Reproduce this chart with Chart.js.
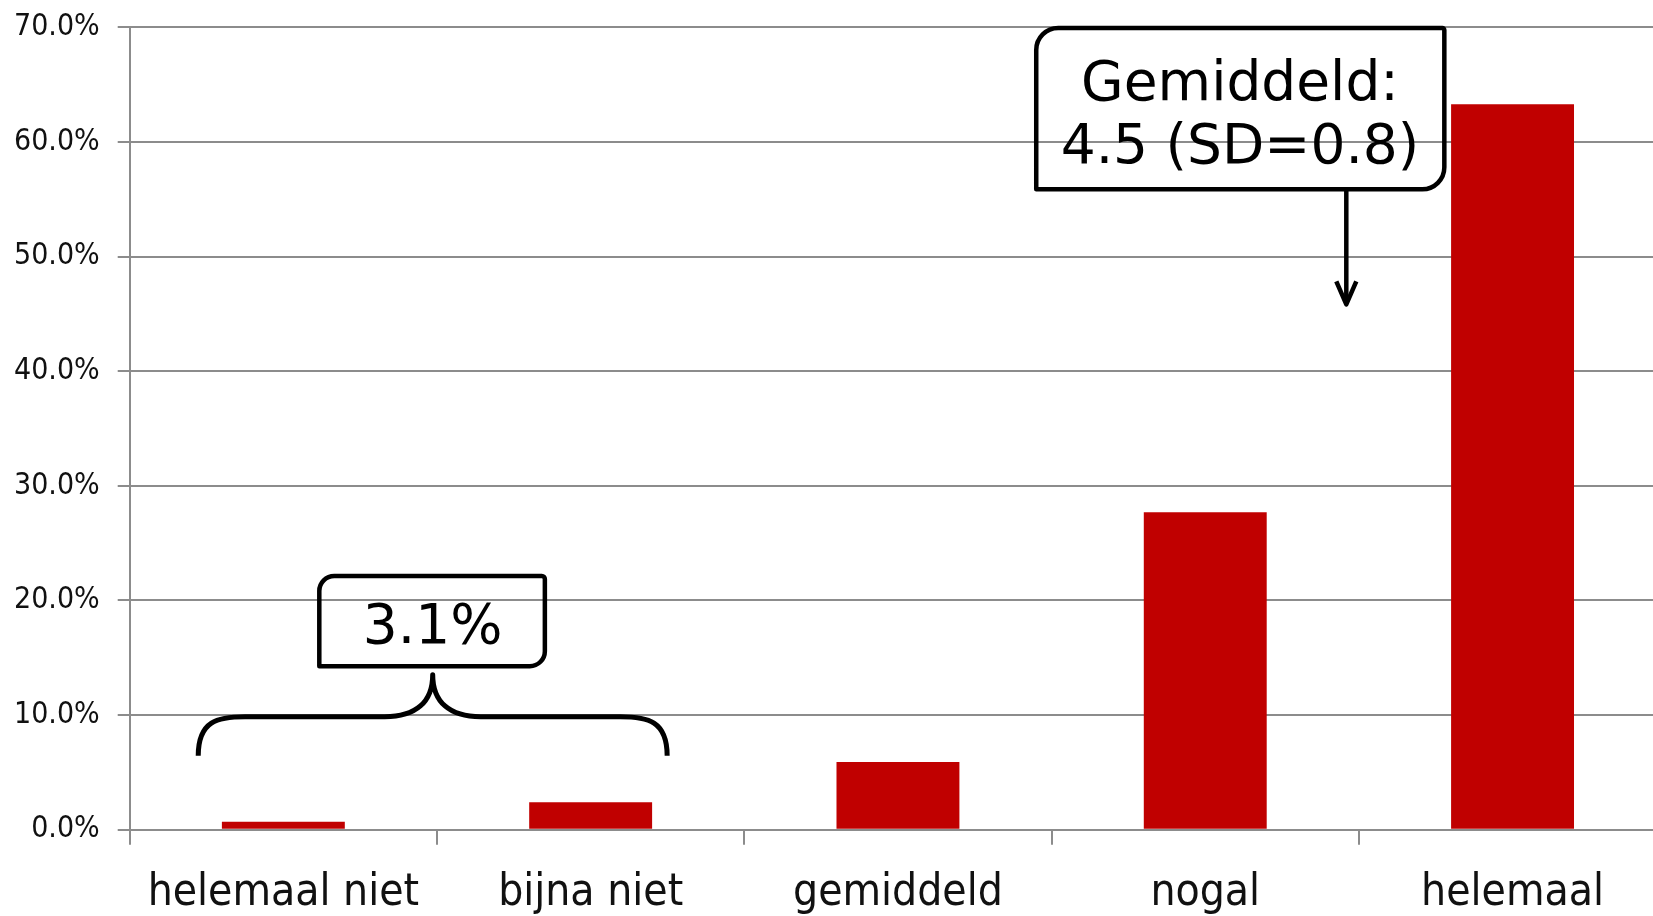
<!DOCTYPE html>
<html>
<head>
<meta charset="utf-8">
<script src="https://cdn.jsdelivr.net/npm/chart.js@4"></script>
<style>
  html, body { margin: 0; padding: 0; background: #fff; overflow: hidden; }
  #wrap { width: 1680px; height: 916px; }
</style>
</head>
<body>
<div id="wrap"><canvas id="c" width="1680" height="916"></canvas></div>
<script>
// ---- data ----
const categories = ['helemaal niet', 'bijna niet', 'gemiddeld', 'nogal', 'helemaal'];
const percentages = [0.7, 2.4, 5.9, 27.7, 63.3];
const yTicks = [0, 10, 20, 30, 40, 50, 60, 70];

// ---- annotations (in data units: x = category index, y = percent) ----
const sumLabel = '3.1%';
const sumBox = [0.117, 0.851, 22.13, 14.27];      // x0, x1, yTop, yBottom
const sumTextPos = [0.486, 16.3];                 // x, baseline y
const bracePts = [-0.277, 1.249, 0.486, 6.45, 9.86, 13.53]; // left, right, tipX, endsY, midY, tipY
const meanLines = ['Gemiddeld:', '4.5 (SD=0.8)'];
const meanBox = [2.450, 3.778, 69.95, 55.88];
const meanTextPos = [3.113, 63.65, 58.14];        // x, baseline line1, baseline line2
const meanArrow = [3.459, 55.88, 45.83];          // x, from y, to y

const tickFont = "'DejaVu Sans Condensed', 'DejaVu Sans', sans-serif";
const noteFont = "'DejaVu Sans', Verdana, sans-serif";
const GRID = '#8c8c8c';

const annotPlugin = {
  id: 'annot',
  afterDraw(chart) {
    const { ctx, scales: { x, y } } = chart;
    const X = v => x.getPixelForValue(v);
    const Y = v => y.getPixelForValue(v);
    ctx.save();
    ctx.strokeStyle = '#000';
    ctx.fillStyle = '#000';
    ctx.lineJoin = 'round';
    ctx.lineCap = 'butt';

    // sum box
    ctx.lineWidth = 4.5;
    ctx.beginPath();
    ctx.roundRect(X(sumBox[0]), Y(sumBox[2]), X(sumBox[1]) - X(sumBox[0]), Y(sumBox[3]) - Y(sumBox[2]), [15, 3, 15, 0]);
    ctx.stroke();
    ctx.font = '55px ' + noteFont;
    ctx.textAlign = 'center';
    ctx.textBaseline = 'alphabetic';
    ctx.fillText(sumLabel, X(sumTextPos[0]), Y(sumTextPos[1]));

    // brace
    const L = X(bracePts[0]), R = X(bracePts[1]), T = X(bracePts[2]);
    const yEnd = Y(bracePts[3]), yMid = Y(bracePts[4]), yTip = Y(bracePts[5]);
    const r1 = yEnd - yMid;            // outer corner
    const w2 = 48;                     // inner curve width
    ctx.lineWidth = 5;
    ctx.beginPath();
    ctx.moveTo(L, yEnd);
    ctx.bezierCurveTo(L, yMid + r1 * 0.1, L + r1 * 0.5, yMid, L + r1 * 1.2, yMid);
    ctx.lineTo(T - w2, yMid);
    ctx.bezierCurveTo(T - w2 * 0.35, yMid, T, yMid - (yMid - yTip) * 0.35, T, yTip);
    ctx.bezierCurveTo(T, yMid - (yMid - yTip) * 0.35, T + w2 * 0.35, yMid, T + w2, yMid);
    ctx.lineTo(R - r1 * 1.2, yMid);
    ctx.bezierCurveTo(R - r1 * 0.5, yMid, R, yMid + r1 * 0.1, R, yEnd);
    ctx.stroke();

    // mean box
    ctx.lineWidth = 4.5;
    ctx.beginPath();
    ctx.roundRect(X(meanBox[0]), Y(meanBox[2]), X(meanBox[1]) - X(meanBox[0]), Y(meanBox[3]) - Y(meanBox[2]), [22, 2, 22, 0]);
    ctx.stroke();
    ctx.fillText(meanLines[0], X(meanTextPos[0]), Y(meanTextPos[1]));
    ctx.fillText(meanLines[1], X(meanTextPos[0]), Y(meanTextPos[2]));

    // arrow
    const ax = X(meanArrow[0]), ay0 = Y(meanArrow[1]), ay1 = Y(meanArrow[2]);
    ctx.lineWidth = 4.5;
    ctx.beginPath();
    ctx.moveTo(ax, ay0);
    ctx.lineTo(ax, ay1 - 2);
    ctx.stroke();
    ctx.beginPath();
    ctx.moveTo(ax - 10, ay1 - 23);
    ctx.lineTo(ax, ay1);
    ctx.lineTo(ax + 10, ay1 - 23);
    ctx.stroke();
    ctx.restore();
  }
};

new Chart(document.getElementById('c'), {
  type: 'bar',
  data: {
    labels: categories,
    datasets: [{
      data: percentages,
      backgroundColor: '#C00000',
      borderWidth: 0,
      barPercentage: 0.4,
      categoryPercentage: 1.0
    }]
  },
  options: {
    responsive: false,
    animation: false,
    devicePixelRatio: 1,
    layout: { padding: { top: 27.4, right: 13.8, left: 0, bottom: 0 } },
    plugins: { legend: { display: false }, tooltip: { enabled: false } },
    scales: {
      x: {
        offset: true,
        grid: { display: true, drawOnChartArea: false, drawTicks: true, tickLength: 15, color: GRID, lineWidth: 2, offset: true },
        border: { display: true, color: GRID, width: 2 },
        ticks: { color: '#111', font: { family: tickFont, size: 44 }, padding: 22, maxRotation: 0, autoSkip: false },
        afterFit(s) { s.height = 86.3; }
      },
      y: {
        min: yTicks[0],
        max: yTicks[yTicks.length - 1],
        afterBuildTicks(s) { s.ticks = yTicks.map(v => ({ value: v })); },
        grid: { color: GRID, lineWidth: 2, tickLength: 12, drawTicks: true },
        border: { display: true, color: GRID, width: 2 },
        ticks: {
          color: '#111',
          font: { family: tickFont, size: 30 },
          padding: 18,
          callback: v => Number(v).toFixed(1) + '%'
        },
        afterFit(s) { s.width = 129.7; s.paddingTop = 0; s.paddingBottom = 0; }
      }
    }
  },
  plugins: [annotPlugin]
});
</script>
</body>
</html>
